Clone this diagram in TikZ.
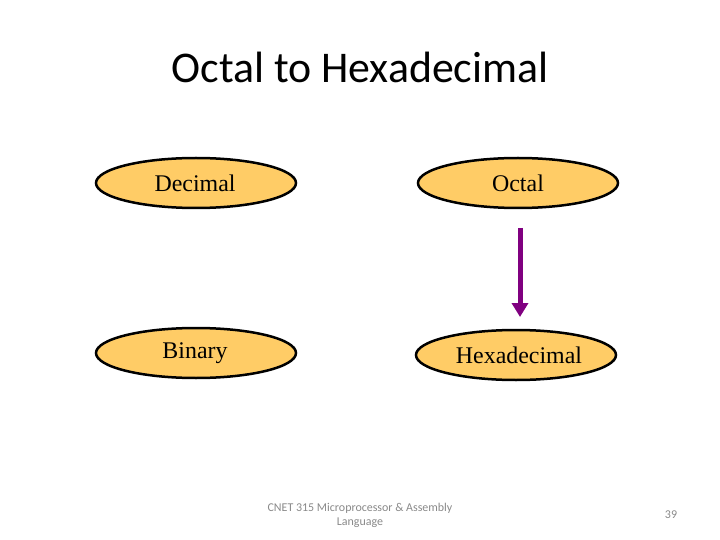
\documentclass[tikz,border=0pt]{standalone}
\usepackage{fontspec}
\setmainfont{Liberation Serif}
\newfontfamily\calib{Carlito}
\usetikzlibrary{shapes.geometric,arrows.meta}
\definecolor{ovalfill}{HTML}{FFCC66}
\definecolor{arrowpurple}{HTML}{800080}
\definecolor{footgray}{HTML}{898989}
\begin{document}
\begin{tikzpicture}[x=1bp,y=-1bp,
  oval/.style={ellipse,draw=black,line width=2.5bp,fill=ovalfill,minimum width=200bp,minimum height=50bp,inner sep=0pt},
  lbl/.style={font=\fontsize{24}{28}\selectfont,text=black},
  conv/.style={draw=arrowpurple,line width=5bp,-{Triangle[length=14bp,width=16bp]}}]
\useasboundingbox (0,0) rectangle (720,540);
\node[font=\calib\fontsize{44}{52}\selectfont] (title) at (360,67) {Octal to Hexadecimal};
\node[oval] (dec) at (196,183) {};
\node[lbl] (decl) at (195,183) {Decimal};
\node[oval] (oct) at (518,183) {};
\node[lbl] (octl) at (518,183) {Octal};
\node[oval] (bin) at (196,353) {};
\node[lbl] (binl) at (195,353) {Binary};
\node[oval] (hex) at (516,355) {};
\node[lbl] (hexl) at (519,355) {Hexadecimal};
\coordinate (a1) at (520,228);
\coordinate (a2) at (520,317);
\draw[conv] (a1) -- (a2);
\node[font=\calib\fontsize{12}{14}\selectfont,text=footgray,align=center] (foot) at (360,515) {CNET 315 Microprocessor \& Assembly\\Language};
\node[font=\calib\fontsize{12}{14}\selectfont,text=footgray] (num) at (671,515) {39};
\end{tikzpicture}
\end{document}
